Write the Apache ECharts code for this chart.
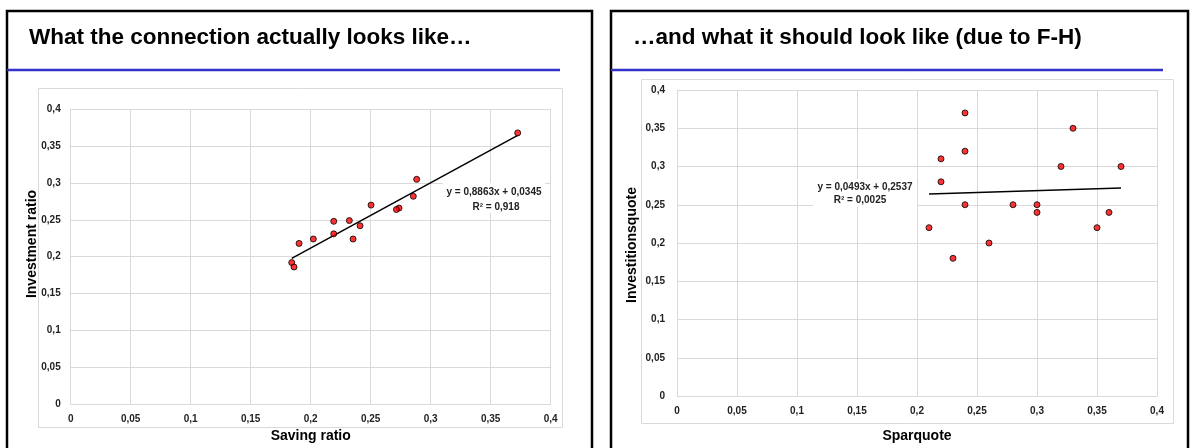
<!DOCTYPE html>
<html>
<head>
<meta charset="utf-8">
<script src="https://cdn.jsdelivr.net/npm/echarts@6/dist/echarts.min.js"></script>
<style>
html,body{margin:0;padding:0;background:#fff;}
#chart{width:1190px;height:448px;}
</style>
</head>
<body>
<div id="chart"></div>
<script>
// ---- Data ----
var leftTitle = 'What the connection actually looks like…';
var rightTitle = '…and what it should look like (due to F-H)';
var leftXName = 'Saving ratio';
var leftYName = 'Investment ratio';
var rightXName = 'Sparquote';
var rightYName = 'Investitionsquote';

var leftSaving = [0.3725, 0.2883, 0.2855, 0.2736, 0.2714, 0.2503, 0.2322, 0.2192, 0.2411, 0.2192, 0.2353, 0.2022, 0.1903, 0.1842, 0.1861];
var leftInvest = [0.368, 0.305, 0.282, 0.266, 0.264, 0.270, 0.249, 0.248, 0.242, 0.231, 0.224, 0.224, 0.218, 0.192, 0.186];

var rightSpar = [0.24, 0.33, 0.22, 0.24, 0.32, 0.37, 0.22, 0.24, 0.28, 0.30, 0.30, 0.36, 0.21, 0.35, 0.26, 0.23];
var rightInv  = [0.37, 0.35, 0.31, 0.32, 0.30, 0.30, 0.28, 0.25, 0.25, 0.25, 0.24, 0.24, 0.22, 0.22, 0.20, 0.18];

var leftSlope = 0.8863, leftIntercept = 0.0345, leftR2 = '0,918';
var rightSlope = 0.0493, rightIntercept = 0.2537, rightR2 = '0,0025';

var axisMin = 0, axisMax = 0.4, axisStep = 0.05;

// ---- Build ----
function fmt(v){ return String(Math.round(v*100)/100).replace('.', ','); }
function coef(v){ return String(v).replace('.', ','); }
function pairs(xs, ys){ return xs.map(function(x,i){ return [x, ys[i]]; }); }
function trend(xs, m, b){
  var lo = Math.min.apply(null, xs), hi = Math.max.apply(null, xs);
  return [[lo, m*lo+b], [hi, m*hi+b]];
}

var FONT = '"Liberation Sans", Arial, sans-serif';
var gridColor = '#d9d9d9';

function makeX(gridIndex, name, gap){
  return {
    type:'value', gridIndex:gridIndex, min:axisMin, max:axisMax, interval:axisStep,
    axisLine:{show:true, lineStyle:{color:gridColor, width:1}},
    axisTick:{show:false},
    splitLine:{show:true, lineStyle:{color:gridColor, width:1}},
    axisLabel:{formatter:fmt, color:'#222', fontFamily:FONT, fontWeight:'bold', fontSize:10, margin:10},
    name:name, nameLocation:'middle', nameGap:gap,
    nameTextStyle:{fontFamily:FONT, fontWeight:'bold', fontSize:14, color:'#000'}
  };
}
function makeY(gridIndex, margin){
  return {
    type:'value', gridIndex:gridIndex, min:axisMin, max:axisMax, interval:axisStep,
    axisLine:{show:true, lineStyle:{color:gridColor, width:1}},
    axisTick:{show:false},
    splitLine:{show:true, lineStyle:{color:gridColor, width:1}},
    axisLabel:{formatter:fmt, color:'#222', fontFamily:FONT, fontWeight:'bold', fontSize:10, margin:margin}
  };
}

var scatterStyle = {color:'#ff0000', borderColor:'#000', borderWidth:1};

var option = {
  animation:false,
  backgroundColor:'#fff',
  grid:[
    {left:70.7, top:109.3, width:480, height:295.7},
    {left:677, top:90, width:480, height:306.7}
  ],
  xAxis:[ makeX(0, leftXName, 24), makeX(1, rightXName, 33) ],
  yAxis:[ makeY(0, 10), makeY(1, 12) ],
  series:[
    {type:'line', xAxisIndex:0, yAxisIndex:0, data:trend(leftSaving, leftSlope, leftIntercept),
     symbol:'none', lineStyle:{color:'#000', width:1.5}, z:2},
    {type:'scatter', xAxisIndex:0, yAxisIndex:0, data:pairs(leftSaving, leftInvest),
     symbolSize:6, itemStyle:scatterStyle, z:3},
    {type:'line', xAxisIndex:1, yAxisIndex:1, data:trend(rightSpar, rightSlope, rightIntercept),
     symbol:'none', lineStyle:{color:'#000', width:1.5}, z:2},
    {type:'scatter', xAxisIndex:1, yAxisIndex:1, data:pairs(rightSpar, rightInv),
     symbolSize:6, itemStyle:scatterStyle, z:3}
  ],
  graphic:[
    // panel frames
    {type:'rect', shape:{x:7, y:11, width:585, height:460}, style:{fill:null, stroke:'#000', lineWidth:2.5}, z:0, silent:true},
    {type:'rect', shape:{x:611, y:11, width:577, height:460}, style:{fill:null, stroke:'#000', lineWidth:2.5}, z:0, silent:true},
    // titles
    {type:'text', x:29, y:38, style:{text:leftTitle, font:'bold 22.5px '+FONT, fill:'#000', textVerticalAlign:'middle'}, z:5},
    {type:'text', x:633, y:38, style:{text:rightTitle, font:'bold 22.5px '+FONT, fill:'#000', textVerticalAlign:'middle'}, z:5},
    // blue separators
    {type:'line', shape:{x1:7, y1:70, x2:560, y2:70}, style:{stroke:'#3333cc', lineWidth:2.5}, z:5},
    {type:'line', shape:{x1:611, y1:70, x2:1163, y2:70}, style:{stroke:'#3333cc', lineWidth:2.5}, z:5},
    // chart area frames
    {type:'rect', shape:{x:38.5, y:88.5, width:524, height:339}, style:{fill:null, stroke:gridColor, lineWidth:1}, z:0, silent:true},
    {type:'rect', shape:{x:641.5, y:79.5, width:532, height:344}, style:{fill:null, stroke:gridColor, lineWidth:1}, z:0, silent:true},
    // y axis titles
    {type:'text', x:32, y:244, rotation:Math.PI/2, style:{text:leftYName, font:'bold 14px '+FONT, fill:'#000', textAlign:'center', textVerticalAlign:'middle'}, z:5},
    {type:'text', x:632, y:245, rotation:Math.PI/2, style:{text:rightYName, font:'bold 14px '+FONT, fill:'#000', textAlign:'center', textVerticalAlign:'middle'}, z:5},
    // trendline labels
    {type:'rect', shape:{x:443, y:183, width:102, height:30}, style:{fill:'#fff'}, z:4},
    {type:'text', x:494, y:192, style:{text:'y = '+coef(leftSlope)+'x + '+coef(leftIntercept), font:'bold 10px '+FONT, fill:'#222', textAlign:'center', textVerticalAlign:'middle'}, z:5},
    {type:'text', x:496, y:207, style:{text:'R² = '+leftR2, font:'bold 10px '+FONT, fill:'#222', textAlign:'center', textVerticalAlign:'middle'}, z:5},
    {type:'rect', shape:{x:813, y:179, width:104, height:28}, style:{fill:'#fff'}, z:4},
    {type:'text', x:865, y:187, style:{text:'y = '+coef(rightSlope)+'x + '+coef(rightIntercept), font:'bold 10px '+FONT, fill:'#222', textAlign:'center', textVerticalAlign:'middle'}, z:5},
    {type:'text', x:860, y:200, style:{text:'R² = '+rightR2, font:'bold 10px '+FONT, fill:'#222', textAlign:'center', textVerticalAlign:'middle'}, z:5}
  ]
};

var chart = echarts.init(document.getElementById('chart'), null, {renderer:'canvas'});
chart.setOption(option);
</script>
</body>
</html>
